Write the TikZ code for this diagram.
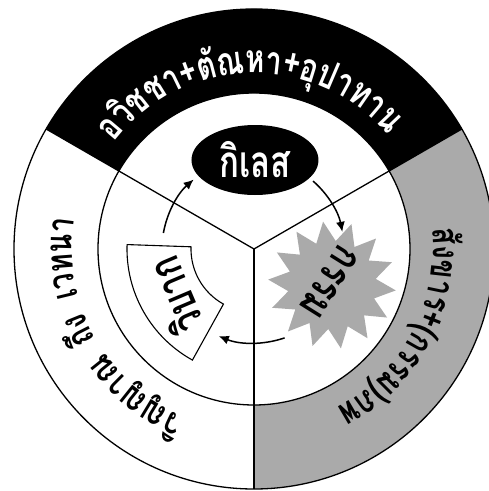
\documentclass[tikz,border=0pt]{standalone}
\usepackage{fontspec}
\newfontfamily\thai[Script=Thai,FakeStretch=0.75]{Loma}
\usetikzlibrary{shapes.geometric,arrows.meta}
\definecolor{gr}{RGB}{170,170,170}
\newdimen\cwtot
\newdimen\cwone
\newcommand\measurecl[1]{\pgfinterruptpicture\setbox0=\hbox{#1}\global\cwone=\wd0\relax\endpgfinterruptpicture}
% #1 centre angle, #2 baseline radius, #3 font, #4 colour, #5 clusters (clockwise, tops outward)
\newcommand\arctext[5]{%
  \global\cwtot=0pt
  \foreach \cl in {#5}{\measurecl{#3\cl}\global\advance\cwtot by \cwone\relax}%
  \pgfmathsetmacro\curang{#1 + (\cwtot/2)/(#2)*180/pi}%
  \global\let\curang\curang
  \foreach \cl in {#5}{%
    \measurecl{#3\cl}%
    \pgfmathsetmacro\halfang{(\cwone/2)/(#2)*180/pi}%
    \pgfmathsetmacro\thisang{\curang-\halfang}%
    \node[text=#4, rotate=\thisang-90, anchor=base, inner sep=0pt] at (\thisang:#2) {#3\cl};
    \pgfmathsetmacro\nextang{\curang-2*\halfang}%
    \global\let\curang\nextang
  }%
}
\tikzset{
  ring/.style={line width=1.3pt},
  arr/.style={line width=1.5pt, -{Latex[length=10pt,width=9pt]}},
  inner/.style={inner sep=0pt, font=\thai\bfseries\fontsize{44}{44}\selectfont},
}
\begin{document}
\begin{tikzpicture}[x=1pt,y=1pt]
\useasboundingbox (-254,-242) rectangle (235,249);
\clip (-254,-242) rectangle (235,249);
\fill[white] (-254,-242) rectangle (235,249);
% sectors
\fill[black] (30:156) arc[start angle=30,end angle=150,radius=156] -- (150:240) arc[start angle=150,end angle=30,radius=240] -- cycle;
\fill[gr] (-90:156) arc[start angle=-90,end angle=30,radius=156] -- (30:240) arc[start angle=30,end angle=-90,radius=240] -- cycle;
\draw[ring] (0,0) circle (240);
\draw[ring] (0,0) circle (156);
\draw[ring] (0,0) -- (30:240);
\draw[ring] (0,0) -- (150:240);
\draw[ring] (0,0) -- (270:240);
% inner shapes
\node[ellipse, fill=black, minimum width=127pt, minimum height=70pt, inner sep=0pt, text=white,
      font=\thai\bfseries\fontsize{44}{44}\selectfont] (kilet) at (1,89) {กิเลส};
\node[star, star points=14, star point ratio=1.45, minimum size=128pt, fill=gr, inner sep=0pt, rotate=8] (kam) at (78,-36) {};
\draw[line width=1.1pt, fill=white] (178:127) arc[start angle=178,end angle=241,radius=127]
   -- (241:63) arc[start angle=241,end angle=178,radius=63] -- cycle;
% arrows
\coordinate (a1) at (170:92);
\coordinate (a2) at (49:90);
\coordinate (a3) at (-71:94);
\draw[arr] (a1) arc[start angle=170,end angle=131,radius=92];
\draw[arr] (a2) arc[start angle=49,end angle=11,radius=90];
\draw[arr] (a3) arc[start angle=-71,end angle=-112,radius=94];
% inner texts
\node[inner, rotate=-122] (kamt) at (75,-33) {กรรม};
\node[inner, rotate=113] (wibak) at (-80,-47) {วิบาก};
% ring texts
\arctext{91.5}{176}{\thai\bfseries\fontsize{39}{39}\selectfont}{white}{อ,วิ,ช,ช,า,+,ตั,ณ,ห,า,+,อุ,ป,า,ท,า,น}
\arctext{-28}{179}{\thai\bfseries\fontsize{37}{37}\selectfont}{black}{สั,ง,ข,า,ร,+,{(},ก,ร,ร,ม,{)},ภ,พ}
\arctext{209}{182}{\thai\bfseries\fontsize{37}{37}\selectfont}{black}{วิ,ญ,ญ,า,ณ,\hbox to 16pt{},ถึ,ง,\hbox to 16pt{},เ,ว,ท,น,า}
\end{tikzpicture}
\end{document}
